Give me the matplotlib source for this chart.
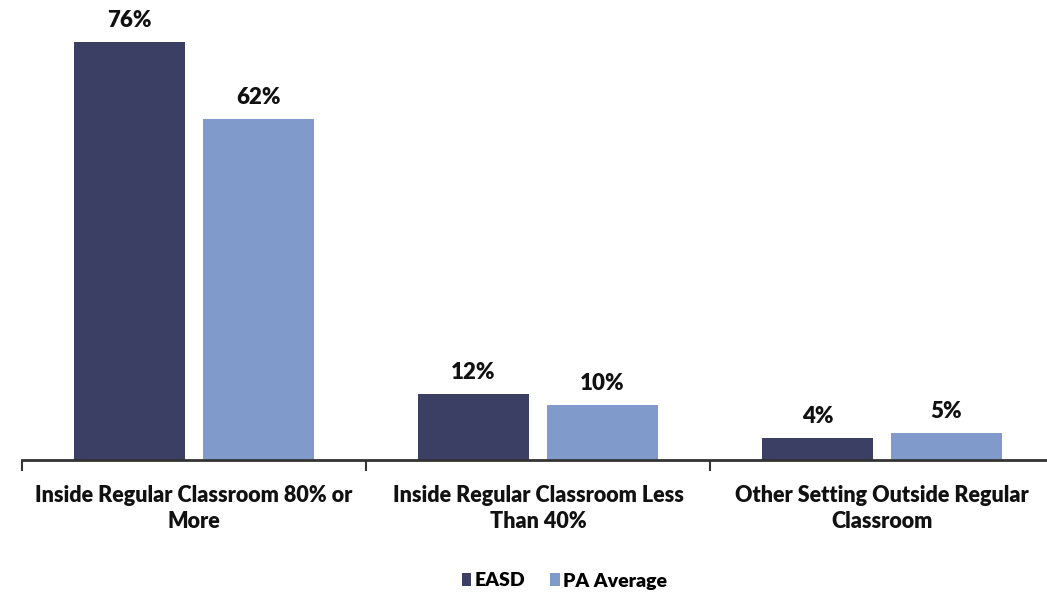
import matplotlib.pyplot as plt
import numpy as np

categories = ["Inside Regular Classroom 80% or\nMore",
              "Inside Regular Classroom Less\nThan 40%",
              "Other Setting Outside Regular\nClassroom"]
easd = [76, 12, 4]
pa_avg = [62, 10, 5]

plt.rcParams['font.family'] = ['Lato', 'DejaVu Sans']

fig = plt.figure(figsize=(10.47, 5.95), dpi=100)
ax = fig.add_axes([22/1047, 1-460/595, 1032/1047, 460/595])

x = np.arange(len(categories))
w = 0.323
off = 0.1875
b1 = ax.bar(x - off, easd, w, color='#3b3f63', label='EASD')
b2 = ax.bar(x + off, pa_avg, w, color='#7f9acb', label='PA Average')

for bars, vals in ((b1, easd), (b2, pa_avg)):
    for r, v in zip(bars, vals):
        ax.text(r.get_x() + r.get_width()/2, v + 2.0, f"{v}%", ha='center', va='bottom',
                fontsize=16, fontweight='heavy', color='#111111')

ax.set_xlim(-0.5, 2.5)
ax.set_ylim(0, 460/5.5)
for s in ['top', 'right', 'left']:
    ax.spines[s].set_visible(False)
ax.spines['bottom'].set_color('#333333')
ax.spines['bottom'].set_linewidth(2)
ax.set_yticks([])

# category boundary ticks
ax.set_xticks([-0.5, 0.5, 1.5, 2.5])
ax.set_xticklabels([])
ax.tick_params(axis='x', length=8, width=1.5, color='#333333', direction='out')
for i, c in enumerate(categories):
    ax.text(i, -4.6, c, ha='center', va='top', fontsize=15.5, fontweight='heavy',
            color='#111111', linespacing=1.3)

fig.legend(handles=[b1, b2], loc='center', bbox_to_anchor=(0.539, 1-581/595), ncol=2,
           frameon=False, prop={'weight': 'heavy', 'size': 14},
           handlelength=0.5, handleheight=0.6, handletextpad=0.15, columnspacing=1.3)

fig.savefig('out.png', dpi=100)
